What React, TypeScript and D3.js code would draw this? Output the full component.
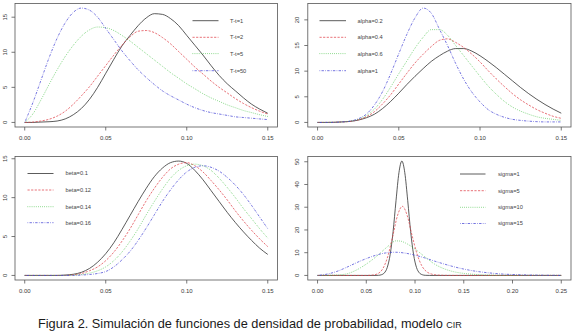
import React from "react";
import * as d3 from "d3";

// ---------- data ----------
const GRID = [0, 0.005, 0.01, 0.015, 0.02, 0.025, 0.03, 0.035, 0.04, 0.045, 0.05, 0.055, 0.06, 0.065, 0.07, 0.075, 0.08, 0.085, 0.09, 0.095, 0.1, 0.105, 0.11, 0.115, 0.12, 0.125, 0.13, 0.135, 0.14, 0.145, 0.15];

// Panel 1: T-t
const P1_LABELS = ["T-t=1", "T-t=2", "T-t=5", "T-t=50"];
const P1_T1 = [0, 0, 0.05, 0.1, 0.2, 0.5, 1.1, 2.0, 3.3, 5.0, 7.0, 9.0, 10.9, 12.4, 13.8, 14.9, 15.5, 15.4, 14.8, 13.8, 12.4, 11.0, 9.6, 8.1, 6.7, 5.5, 4.5, 3.5, 2.6, 1.9, 1.3];
const P1_T2 = [0, 0.05, 0.2, 0.45, 0.9, 1.6, 2.6, 3.8, 5.1, 6.6, 8.1, 9.6, 11.0, 12.2, 13.0, 13.1, 12.8, 12.1, 11.2, 10.1, 9.0, 7.9, 6.9, 5.9, 5.0, 4.2, 3.4, 2.7, 2.1, 1.6, 1.2];
const P1_T5 = [0, 1.2, 3.2, 5.4, 7.5, 9.4, 11.0, 12.3, 13.2, 13.6, 13.5, 13.1, 12.4, 11.6, 10.7, 9.8, 8.9, 8.0, 7.1, 6.3, 5.5, 4.8, 4.1, 3.5, 3.0, 2.5, 2.1, 1.7, 1.4, 1.1, 0.85];
const P1_T50 = [0, 2.8, 6.0, 9.2, 12.0, 14.2, 15.7, 16.3, 16.0, 15.0, 13.4, 11.8, 10.2, 8.8, 7.5, 6.4, 5.4, 4.5, 3.8, 3.2, 2.6, 2.1, 1.7, 1.4, 1.2, 1.0, 0.8, 0.7, 0.6, 0.5, 0.4];

// Panel 2: alpha
const P2_LABELS = ["alpha=0.2", "alpha=0.4", "alpha=0.6", "alpha=1"];
const P2_A02 = [0, 0, 0.02, 0.1, 0.2, 0.45, 0.9, 1.6, 2.7, 4.1, 5.7, 7.4, 9.0, 10.5, 11.9, 13.0, 13.9, 14.4, 14.4, 13.9, 13.0, 11.9, 10.7, 9.4, 8.1, 6.8, 5.6, 4.5, 3.5, 2.6, 1.8];
const P2_A04 = [0, 0, 0.02, 0.1, 0.2, 0.5, 1.1, 2.1, 3.6, 5.4, 7.5, 9.6, 11.6, 13.3, 14.8, 16.0, 16.3, 15.6, 14.6, 13.3, 11.8, 10.1, 8.5, 7.0, 5.6, 4.4, 3.4, 2.5, 1.8, 1.2, 0.8];
const P2_A06 = [0, 0, 0.02, 0.1, 0.25, 0.6, 1.3, 2.6, 4.5, 6.9, 9.5, 12.0, 14.5, 16.6, 18.1, 18.1, 17.0, 15.0, 13.0, 11.0, 9.0, 7.1, 5.5, 4.1, 3.0, 2.2, 1.6, 1.1, 0.8, 0.6, 0.4];
const P2_A1 = [0, 0, 0.02, 0.1, 0.25, 0.7, 1.6, 3.4, 6.0, 9.5, 13.4, 17.2, 20.4, 22.3, 21.3, 18.2, 15.0, 11.5, 8.4, 5.9, 4.0, 2.5, 1.6, 1.0, 0.6, 0.4, 0.25, 0.15, 0.1, 0.1, 0.1];

// Panel 3: beta
const P3_LABELS = ["beta=0.1", "beta=0.12", "beta=0.14", "beta=0.16"];
const P3_B010 = [0, 0, 0, 0, 0, 0.05, 0.15, 0.4, 0.9, 1.7, 2.8, 4.2, 5.9, 7.7, 9.5, 11.2, 12.7, 13.8, 14.5, 14.7, 14.4, 13.5, 12.3, 10.9, 9.5, 8.1, 6.8, 5.6, 4.5, 3.5, 2.7];
const P3_B012 = [0, 0, 0, 0, 0, 0, 0.08, 0.25, 0.6, 1.1, 1.9, 3.0, 4.4, 6.0, 7.8, 9.6, 11.2, 12.6, 13.7, 14.3, 14.5, 14.1, 13.3, 12.2, 11.0, 9.7, 8.3, 7.0, 5.8, 4.7, 3.7];
const P3_B014 = [0, 0, 0, 0, 0, 0, 0.04, 0.12, 0.3, 0.6, 1.1, 1.9, 3.0, 4.4, 6.0, 7.8, 9.5, 11.1, 12.5, 13.5, 14.1, 14.3, 14.1, 13.5, 12.5, 11.3, 10.0, 8.6, 7.3, 6.0, 4.8];
const P3_B016 = [0, 0, 0, 0, 0, 0, 0, 0.05, 0.12, 0.25, 0.5, 1.1, 2.0, 3.1, 4.5, 6.1, 7.8, 9.5, 11.0, 12.3, 13.3, 13.9, 14.1, 13.9, 13.4, 12.6, 11.6, 10.4, 9.0, 7.5, 6.0];

// Panel 4: sigma
const P4_LABELS = ["sigma=1", "sigma=5", "sigma=10", "sigma=15"];
const P4_S1_X = [0, 0.06, 0.0625, 0.0655, 0.0685, 0.0715, 0.0745, 0.0775, 0.0805, 0.0835, 0.0865, 0.0895, 0.0925, 0.0955, 0.0985, 0.1015, 0.1045, 0.1075, 0.1105, 0.115, 0.25];
const P4_S1_Y = [0, 0, 0.05, 0.3, 1.1, 3.5, 9.2, 19.3, 32.9, 45.2, 50.3, 45.2, 32.9, 19.3, 9.2, 3.5, 1.1, 0.3, 0.05, 0, 0];
const P4_S5_X = [0, 0.05, 0.057, 0.062, 0.067, 0.072, 0.077, 0.082, 0.087, 0.092, 0.097, 0.102, 0.107, 0.112, 0.117, 0.122, 0.13, 0.14, 0.25];
const P4_S5_Y = [0, 0, 0.2, 0.8, 3.0, 8.3, 17.0, 26.3, 30.4, 26.3, 17.5, 9.5, 4.2, 1.6, 0.6, 0.2, 0.05, 0, 0];
const P4_S10_X = [0, 0.01, 0.02, 0.03, 0.04, 0.05, 0.06, 0.07, 0.075, 0.08, 0.085, 0.09, 0.1, 0.11, 0.12, 0.13, 0.14, 0.15, 0.16, 0.17, 0.18, 0.2, 0.25];
const P4_S10_Y = [0, 0.05, 0.2, 0.7, 2.4, 5.0, 8.2, 12.0, 13.8, 15.2, 15.1, 14.3, 11.6, 8.2, 5.0, 2.9, 1.6, 0.9, 0.5, 0.25, 0.12, 0.03, 0];
const P4_S15_X = [0, 0.01, 0.02, 0.03, 0.04, 0.05, 0.06, 0.07, 0.08, 0.09, 0.1, 0.11, 0.12, 0.13, 0.14, 0.15, 0.16, 0.17, 0.18, 0.19, 0.2, 0.21, 0.22, 0.23, 0.24, 0.25];
const P4_S15_Y = [0, 0.6, 1.8, 3.6, 5.6, 7.4, 8.9, 9.9, 10.2, 9.8, 8.9, 7.7, 6.3, 5.0, 3.8, 2.8, 2.0, 1.4, 0.95, 0.6, 0.4, 0.25, 0.15, 0.1, 0.05, 0.03];

const X_TICKS_015 = [0, 0.05, 0.1, 0.15];
const X_TICKS_025 = [0, 0.05, 0.1, 0.15, 0.2, 0.25];
const Y_TICKS_1 = [0, 5, 10, 15];
const Y_TICKS_2 = [0, 5, 10, 15, 20];
const Y_TICKS_3 = [0, 5, 10, 15];
const Y_TICKS_4 = [0, 10, 20, 30, 40, 50];

const CAPTION = "Figura 2. Simulación de funciones de densidad de probabilidad, modelo ";
const CAPTION_SC = "CIR";

// ---------- styles ----------
const STYLES = [
  { color: "#262626", dash: undefined as string | undefined, w: 0.75 },
  { color: "#e0444c", dash: "2.2,1.4", w: 0.75 },
  { color: "#3cbf3c", dash: "0.7,1.4", w: 0.8 },
  { color: "#4747d6", dash: "0.7,1.3,2.4,1.3", w: 0.75 },
];
const FONT = "'Liberation Sans', Arial, Helvetica, sans-serif";

type Series = { x: number[]; y: number[] };
type Panel = {
  box: [number, number, number, number];
  xmax: number;
  xTicks: number[];
  yTicks: number[];
  series: Series[];
  labels: string[];
  legend: { x1: number; x2: number; tx: number; ys: number[] };
  ylabOff: number;
};

const panels: Panel[] = [
  {
    box: [15, 3.5, 277.5, 127],
    xmax: 0.15,
    xTicks: X_TICKS_015,
    yTicks: Y_TICKS_1,
    series: [P1_T1, P1_T2, P1_T5, P1_T50].map((y) => ({ x: GRID, y })),
    labels: P1_LABELS,
    legend: { x1: 192.5, x2: 218.5, tx: 230, ys: [20.7, 37.3, 53.6, 70.7] },
    ylabOff: 9.8,
  },
  {
    box: [307.8, 3.5, 571, 127],
    xmax: 0.15,
    xTicks: X_TICKS_015,
    yTicks: Y_TICKS_2,
    series: [P2_A02, P2_A04, P2_A06, P2_A1].map((y) => ({ x: GRID, y })),
    labels: P2_LABELS,
    legend: { x1: 319.5, x2: 346, tx: 357.5, ys: [20.7, 37.3, 53.6, 70.7] },
    ylabOff: 11,
  },
  {
    box: [15, 156.5, 277.5, 280],
    xmax: 0.15,
    xTicks: X_TICKS_015,
    yTicks: Y_TICKS_3,
    series: [P3_B010, P3_B012, P3_B014, P3_B016].map((y) => ({ x: GRID, y })),
    labels: P3_LABELS,
    legend: { x1: 27.5, x2: 53.5, tx: 65.5, ys: [173.5, 190, 206.7, 222.7] },
    ylabOff: 9.8,
  },
  {
    box: [307.8, 156.5, 571, 280],
    xmax: 0.25,
    xTicks: X_TICKS_025,
    yTicks: Y_TICKS_4,
    series: [
      { x: P4_S1_X, y: P4_S1_Y },
      { x: P4_S5_X, y: P4_S5_Y },
      { x: P4_S10_X, y: P4_S10_Y },
      { x: P4_S15_X, y: P4_S15_Y },
    ],
    labels: P4_LABELS,
    legend: { x1: 460, x2: 485.5, tx: 498, ys: [174, 190.7, 207.3, 223.5] },
    ylabOff: 11,
  },
];

function PanelView({ p }: { p: Panel }) {
  const [x0, y0, x1, y1] = p.box;
  const ymax = d3.max(p.series.flatMap((s) => s.y)) as number;
  const xs = d3
    .scaleLinear()
    .domain([-0.04 * p.xmax, p.xmax * 1.04])
    .range([x0, x1]);
  const ys = d3
    .scaleLinear()
    .domain([-0.04 * ymax, ymax * 1.04])
    .range([y1, y0]);
  const line = d3
    .line<[number, number]>()
    .x((d) => xs(d[0]))
    .y((d) => ys(d[1]))
    .curve(d3.curveMonotoneX);
  const tickCol = "#555";
  return (
    <g>
      {p.series.map((s, i) => (
        <path
          key={i}
          d={line(s.x.map((v, j) => [v, s.y[j]] as [number, number])) || ""}
          fill="none"
          stroke={STYLES[i].color}
          strokeWidth={STYLES[i].w}
          strokeDasharray={STYLES[i].dash}
        />
      ))}
      <rect x={x0} y={y0} width={x1 - x0} height={y1 - y0} fill="none" stroke={tickCol} strokeWidth={0.8} />
      {p.xTicks.map((t) => (
        <g key={"x" + t}>
          <line x1={xs(t)} x2={xs(t)} y1={y1} y2={y1 + 3.5} stroke={tickCol} strokeWidth={0.8} />
          <text x={xs(t)} y={y1 + 13} fontSize={6} fontFamily={FONT} fill="#3a3a3a" textAnchor="middle">
            {d3.format(".2f")(t)}
          </text>
        </g>
      ))}
      {p.yTicks.map((t) => (
        <g key={"y" + t}>
          <line x1={x0 - 3.5} x2={x0} y1={ys(t)} y2={ys(t)} stroke={tickCol} strokeWidth={0.8} />
          <text
            transform={`translate(${x0 - p.ylabOff},${ys(t)}) rotate(-90)`}
            fontSize={6}
            fontFamily={FONT}
            fill="#3a3a3a"
            textAnchor="middle"
            dy="0.35em"
          >
            {t}
          </text>
        </g>
      ))}
      {p.labels.map((lab, i) => (
        <g key={"l" + i}>
          <line
            x1={p.legend.x1}
            x2={p.legend.x2}
            y1={p.legend.ys[i]}
            y2={p.legend.ys[i]}
            stroke={STYLES[i].color}
            strokeWidth={STYLES[i].w}
            strokeDasharray={STYLES[i].dash}
          />
          <text x={p.legend.tx} y={p.legend.ys[i]} dy="0.35em" fontSize={5.7} fontFamily={FONT} fill="#444">
            {lab}
          </text>
        </g>
      ))}
    </g>
  );
}

export default function App() {
  return (
    <svg
      width={576}
      height={336}
      viewBox="0 0 576 336"
      style={{ position: "absolute", left: 0, top: 0, background: "#fff" }}
    >
      <rect x={0} y={0} width={576} height={336} fill="#fff" />
      {panels.map((p, i) => (
        <PanelView key={i} p={p} />
      ))}
      <text x={38} y={328} fontSize={12.75} fontFamily={FONT} fill="#1a1a1a">
        {CAPTION}
        <tspan fontSize={9}>{CAPTION_SC}</tspan>
      </text>
    </svg>
  );
}
